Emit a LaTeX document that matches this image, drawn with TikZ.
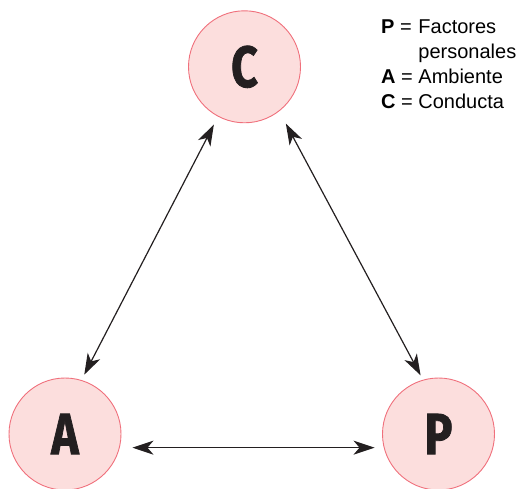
\documentclass[tikz,border=0pt]{standalone}
\usepackage{fontspec}
\setmainfont{Liberation Sans}
\newfontfamily\lettfont[FakeBold=1.5]{Fira Sans}
\usetikzlibrary{arrows.meta}
\definecolor{circfill}{RGB}{252,222,221}
\definecolor{circline}{RGB}{240,112,124}
\definecolor{ink}{RGB}{35,31,32}
\tikzset{
  factor/.style={circle, draw=circline, fill=circfill, line width=0.9pt,
    minimum size=112pt, inner sep=0pt, text=ink,
    font=\lettfont\bfseries\fontsize{58}{58}\selectfont},
  link/.style={{Stealth[length=21pt,width=14pt,inset=6pt]}-{Stealth[length=21pt,width=14pt,inset=6pt]},
    line width=1.2pt, draw=ink},
}
\newcommand{\lett}[1]{\scalebox{0.8}[1]{#1}}

\begin{document}
\begin{tikzpicture}[x=1pt, y=-1pt]
\useasboundingbox (0,0) rectangle (519,489);

\node[factor] (C) at (244.5,66.8) {\lett{C}};
\node[factor] (A) at (65,434) {\lett{A}};
\node[factor] (P) at (438.5,434) {\lett{P}};

% links between the factors
\draw[link, shorten <=9pt, shorten >=6pt] (C.242) -- (A.73);
\draw[link, shorten <=14pt, shorten >=5pt] (C.308) -- (P.106);
\draw[link, shorten <=12.7pt, shorten >=9.2pt] (A.-14) -- (P.194);

\node[anchor=base west, inner sep=0pt, font=\fontsize{20}{25}\selectfont] (key) at (381,34)
{\begin{tabular}[t]{@{}l@{\ }l@{}}
\textbf{P} = & Factores\\
 & personales\\
\textbf{A} = & Ambiente\\
\textbf{C} = & Conducta
\end{tabular}};
\end{tikzpicture}
\end{document}
